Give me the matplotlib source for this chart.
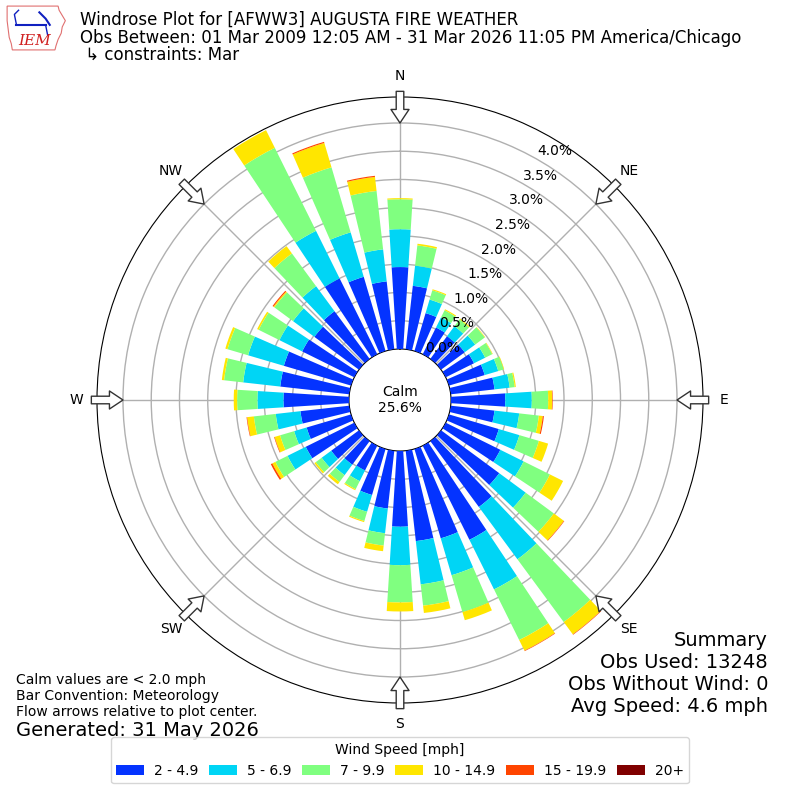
import numpy as np
import matplotlib
matplotlib.use("Agg")
import matplotlib.pyplot as plt
import matplotlib.transforms as mtransforms
from matplotlib.patches import Patch, Polygon

# direction bins (deg, meteorological) and percent of obs per speed bin
directions = np.arange(0, 360, 10)
spd_2_5 = [1.45, 1.13, 0.70, 0.53, 0.50, 0.52, 0.56, 0.66, 0.78, 0.96, 0.78, 0.92,
           1.08, 1.28, 1.45, 1.86, 1.65, 1.61, 1.34, 1.03, 0.85, 0.49, 0.52, 0.61,
           0.96, 0.82, 0.87, 1.16, 1.23, 1.24, 1.03, 0.98, 1.05, 1.50, 1.37, 1.21]
spd_5_7 = [0.67, 0.36, 0.25, 0.20, 0.22, 0.23, 0.22, 0.25, 0.27, 0.47, 0.44, 0.38,
           0.46, 0.58, 1.15, 0.98, 0.68, 0.77, 0.68, 0.44, 0.31, 0.21, 0.23, 0.21,
           0.36, 0.23, 0.44, 0.46, 0.66, 0.66, 0.45, 0.47, 0.55, 0.94, 0.82, 0.57]
spd_7_10 = [0.53, 0.36, 0.17, 0.14, 0.15, 0.21, 0.14, 0.10, 0.09, 0.29, 0.35, 0.36,
            0.52, 0.62, 1.38, 1.00, 0.68, 0.38, 0.66, 0.22, 0.17, 0.16, 0.15, 0.13,
            0.24, 0.26, 0.39, 0.36, 0.34, 0.38, 0.41, 0.41, 0.72, 1.64, 1.20, 1.04]
spd_10_15 = [0.02, 0.03, 0.02, 0.02, 0.02, 0.01, 0.01, 0.01, 0.02, 0.07, 0.07, 0.17,
             0.26, 0.22, 0.27, 0.21, 0.15, 0.13, 0.16, 0.10, 0.02, 0.02, 0.05, 0.03,
             0.06, 0.10, 0.12, 0.06, 0.04, 0.04, 0.03, 0.02, 0.16, 0.35, 0.45, 0.25]
spd_15_20 = [0, 0, 0, 0, 0, 0, 0, 0, 0, 0.01, 0.02, 0,
             0, 0.01, 0.01, 0.01, 0, 0, 0, 0, 0, 0, 0, 0,
             0.03, 0.01, 0.01, 0, 0, 0, 0, 0.02, 0, 0, 0.02, 0.02]
spd_20 = [0] * 36

speed_labels = ["2 - 4.9", "5 - 6.9", "7 - 9.9", "10 - 14.9", "15 - 19.9", "20+"]
speed_colors = ["#0433ff", "#00d5f5", "#80ff80", "#ffe600", "#ff4500", "#800000"]
ring_ticks = [0.0, 0.5, 1.0, 1.5, 2.0, 2.5, 3.0, 3.5, 4.0]
compass = ["N", "NE", "E", "SE", "S", "SW", "W", "NW"]
calm_pct = 25.6

fig = plt.figure(figsize=(8, 8), dpi=100)
ax = fig.add_axes([0.12125, 0.12125, 0.7575, 0.7575], projection="polar")
ax.set_theta_zero_location("N")
ax.set_theta_direction(-1)

theta = np.deg2rad(directions)
width = np.deg2rad(7.2)
bottom = np.zeros(len(directions))
for vals, col in zip([spd_2_5, spd_5_7, spd_7_10, spd_10_15, spd_15_20, spd_20],
                     speed_colors):
    vals = np.array(vals, dtype=float)
    ax.bar(theta, vals, width=width, bottom=bottom, color=col, linewidth=0,
           zorder=3)
    bottom += vals

ax.set_ylim(0, 4.46)
ax.set_rorigin(-0.903)
ax.set_yticks(ring_ticks[1:])
ax.set_yticklabels([])
ax.set_xticks(np.deg2rad(np.arange(0, 360, 45)))
ax.set_xticklabels([])
ax.grid(True, color="#b0b0b0", linewidth=1)
ax.set_axisbelow(True)

# ring labels
trans = mtransforms.offset_copy(ax.transData, fig=fig, x=18, y=7.6, units="dots")
for p in ring_ticks:
    ax.text(np.deg2rad(29.5), p, f"{p:.1f}%", transform=trans, ha="center",
            va="center", fontsize=10, zorder=5)

# compass labels and flow arrows
for i, lab in enumerate(compass):
    t = np.deg2rad(i * 45)
    ax.text(t, 4.83, lab, ha="center", va="center", fontsize=10, clip_on=False)
    ax.annotate("", xy=(t, 4.0), xytext=(t, 4.56), annotation_clip=False,
                arrowprops=dict(arrowstyle="simple,head_length=0.75,head_width=1.0,tail_width=0.42",
                                fc="white", ec="#333333", lw=1, mutation_scale=13,
                                shrinkA=0, shrinkB=0), zorder=6)

ax.text(0, -0.903, f"Calm\n{calm_pct}%", ha="center", va="center", fontsize=10,
        zorder=6)

# header
fig.text(0.1, 1 - 20 / 800, "Windrose Plot for [AFWW3] AUGUSTA FIRE WEATHER",
         fontsize=12, va="center")
fig.text(0.1, 1 - 38 / 800,
         "Obs Between: 01 Mar 2009 12:05 AM - 31 Mar 2026 11:05 PM America/Chicago",
         fontsize=12, va="center")
fig.text(0.1, 1 - 55 / 800, " \u21b3 constraints: Mar", fontsize=12, va="center")

# logo
lax = fig.add_axes([0.005, 0.935, 0.078, 0.06])
lax.set_xlim(0, 60)
lax.set_ylim(0, 46)
lax.axis("off")
iowa = [(3, 44), (52, 44), (53, 40), (56, 35), (59, 30), (56, 24), (55, 18),
        (52, 12), (50, 6), (49, 2), (8, 2), (7, 8), (5, 14), (4, 22), (3, 30)]
lax.add_patch(Polygon(iowa, closed=True, fill=False, ec="#e07070", lw=0.8))
lax.plot([12, 40], [26, 26], color="#1020c0", lw=1.5)
lax.plot([12, 10, 14], [26, 36, 40], color="#1020c0", lw=1)
lax.plot([34, 40, 44], [38, 32, 26], color="#1020c0", lw=1.5)
lax.plot([40, 42], [26, 16], color="#1020c0", lw=1)
lax.text(29, 11, "IEM", color="#d02020", fontsize=11, style="italic",
         family="DejaVu Serif", ha="center", va="center")

# footer notes
fig.text(16 / 800, 1 - 680 / 800, "Calm values are < 2.0 mph", fontsize=10, va="center")
fig.text(16 / 800, 1 - 696 / 800, "Bar Convention: Meteorology", fontsize=10, va="center")
fig.text(16 / 800, 1 - 712 / 800, "Flow arrows relative to plot center.", fontsize=10,
         va="center")
fig.text(16 / 800, 1 - 730 / 800, "Generated: 31 May 2026", fontsize=14, va="center")

summary = ["Summary", "Obs Used: 13248", "Obs Without Wind: 0", "Avg Speed: 4.6 mph"]
for i, s in enumerate(summary):
    fig.text(768 / 800, 1 - (640 + 22 * i) / 800, s, fontsize=14, ha="right",
             va="center")

handles = [Patch(facecolor=c, edgecolor="none") for c in speed_colors]
fig.legend(handles, speed_labels, loc="lower center", bbox_to_anchor=(0.5, 0.012),
           ncol=6, title="Wind Speed [mph]", fontsize=10, title_fontsize=10,
           handlelength=2.0, columnspacing=0.8, handletextpad=0.7)

fig.savefig("out.png", dpi=100)
